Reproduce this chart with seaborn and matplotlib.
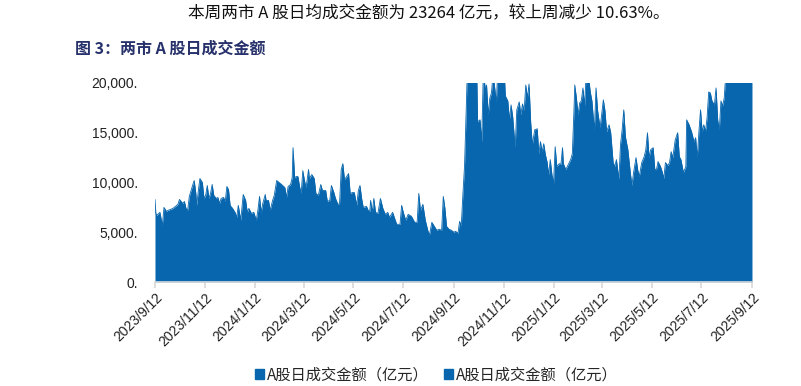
import pandas as pd
import seaborn as sns
import matplotlib.pyplot as plt
import matplotlib.dates as mdates
from matplotlib.patches import Patch
from matplotlib.ticker import FuncFormatter

# Daily turnover of the two markets' A shares (100 million yuan)
dates = [
    "2023-09-12", "2023-09-13", "2023-09-14", "2023-09-18", "2023-09-21", "2023-09-23", "2023-09-26", "2023-09-28",
    "2023-10-04", "2023-10-10", "2023-10-12", "2023-10-16", "2023-10-18", "2023-10-20", "2023-10-22", "2023-10-24",
    "2023-10-28", "2023-10-30", "2023-11-01", "2023-11-02", "2023-11-05", "2023-11-06", "2023-11-09", "2023-11-11",
    "2023-11-13", "2023-11-15", "2023-11-17", "2023-11-19", "2023-11-21", "2023-11-23", "2023-11-26", "2023-11-28",
    "2023-11-30", "2023-12-02", "2023-12-05", "2023-12-07", "2023-12-09", "2023-12-11", "2023-12-13", "2023-12-16",
    "2023-12-19", "2023-12-21", "2023-12-23", "2023-12-26", "2023-12-29", "2024-01-01", "2024-01-03", "2024-01-05",
    "2024-01-08", "2024-01-11", "2024-01-14", "2024-01-16", "2024-01-18", "2024-01-20", "2024-01-22", "2024-01-25",
    "2024-01-26", "2024-01-29", "2024-01-31", "2024-02-03", "2024-02-05", "2024-02-08", "2024-02-14", "2024-02-18",
    "2024-02-20", "2024-02-22", "2024-02-25", "2024-02-27", "2024-02-28", "2024-03-01", "2024-03-03", "2024-03-05",
    "2024-03-07", "2024-03-09", "2024-03-11", "2024-03-13", "2024-03-15", "2024-03-18", "2024-03-19", "2024-03-22",
    "2024-03-25", "2024-03-27", "2024-03-30", "2024-04-02", "2024-04-04", "2024-04-08", "2024-04-10", "2024-04-13",
    "2024-04-15", "2024-04-18", "2024-04-20", "2024-04-23", "2024-04-25", "2024-04-27", "2024-04-29", "2024-05-01",
    "2024-05-03", "2024-05-06", "2024-05-08", "2024-05-11", "2024-05-13", "2024-05-16", "2024-05-18", "2024-05-20",
    "2024-05-22", "2024-05-24", "2024-05-28", "2024-05-30", "2024-06-01", "2024-06-02", "2024-06-04", "2024-06-06",
    "2024-06-08", "2024-06-11", "2024-06-14", "2024-06-17", "2024-06-20", "2024-06-23", "2024-06-25", "2024-06-29",
    "2024-07-01", "2024-07-04", "2024-07-08", "2024-07-10", "2024-07-12", "2024-07-15", "2024-07-18", "2024-07-22",
    "2024-07-26", "2024-07-29", "2024-07-31", "2024-08-02", "2024-08-05", "2024-08-08", "2024-08-11", "2024-08-13",
    "2024-08-16", "2024-08-19", "2024-08-22", "2024-08-25", "2024-08-28", "2024-08-30", "2024-09-01", "2024-09-03",
    "2024-09-06", "2024-09-09", "2024-09-12", "2024-09-14", "2024-09-17", "2024-09-19", "2024-09-21", "2024-09-23",
    "2024-09-25", "2024-09-27", "2024-09-30", "2024-10-08", "2024-10-09", "2024-10-10", "2024-10-11", "2024-10-14",
    "2024-10-16", "2024-10-18", "2024-10-21", "2024-10-22", "2024-10-24", "2024-10-26", "2024-10-28", "2024-10-30",
    "2024-11-01", "2024-11-03", "2024-11-05", "2024-11-07", "2024-11-11", "2024-11-13", "2024-11-14", "2024-11-17",
    "2024-11-19", "2024-11-21", "2024-11-23", "2024-11-26", "2024-11-28", "2024-12-01", "2024-12-03", "2024-12-05",
    "2024-12-07", "2024-12-09", "2024-12-11", "2024-12-13", "2024-12-15", "2024-12-17", "2024-12-20", "2024-12-23",
    "2024-12-25", "2024-12-27", "2024-12-29", "2024-12-31", "2025-01-02", "2025-01-04", "2025-01-06", "2025-01-08",
    "2025-01-10", "2025-01-12", "2025-01-14", "2025-01-16", "2025-01-19", "2025-01-21", "2025-01-23", "2025-01-24",
    "2025-01-27", "2025-01-30", "2025-02-02", "2025-02-04", "2025-02-06", "2025-02-07", "2025-02-09", "2025-02-11",
    "2025-02-13", "2025-02-15", "2025-02-17", "2025-02-19", "2025-02-21", "2025-02-24", "2025-02-26", "2025-02-28",
    "2025-03-03", "2025-03-05", "2025-03-07", "2025-03-10", "2025-03-14", "2025-03-16", "2025-03-18", "2025-03-21",
    "2025-03-23", "2025-03-26", "2025-03-28", "2025-03-30", "2025-04-02", "2025-04-04", "2025-04-06", "2025-04-08",
    "2025-04-10", "2025-04-13", "2025-04-16", "2025-04-18", "2025-04-20", "2025-04-23", "2025-04-25", "2025-04-27",
    "2025-04-30", "2025-05-03", "2025-05-05", "2025-05-07", "2025-05-09", "2025-05-11", "2025-05-14", "2025-05-16",
    "2025-05-18", "2025-05-20", "2025-05-23", "2025-05-25", "2025-05-27", "2025-05-29", "2025-06-01", "2025-06-03",
    "2025-06-05", "2025-06-07", "2025-06-10", "2025-06-13", "2025-06-15", "2025-06-17", "2025-06-20", "2025-06-23",
    "2025-06-24", "2025-06-27", "2025-06-30", "2025-07-03", "2025-07-05", "2025-07-07", "2025-07-09", "2025-07-11",
    "2025-07-13", "2025-07-15", "2025-07-17", "2025-07-19", "2025-07-21", "2025-07-23", "2025-07-25", "2025-07-28",
    "2025-07-30", "2025-08-01", "2025-08-03", "2025-08-05", "2025-08-07", "2025-08-09", "2025-08-11", "2025-08-13",
    "2025-08-18", "2025-08-25", "2025-08-29", "2025-09-03", "2025-09-08", "2025-09-12",
]
turnover = [
    8300, 6900, 6700, 7000, 5700, 7500, 7100, 7200,
    7400, 7800, 8300, 7900, 8100, 7400, 7200, 8600,
    9700, 10200, 8900, 7700, 9800, 10400, 10000, 8400,
    8700, 9700, 8400, 8900, 9800, 8700, 8400, 8500,
    7900, 8400, 8500, 8100, 9600, 9300, 7700, 7400,
    7000, 6500, 7700, 6200, 8800, 8200, 7000, 7400,
    6900, 7000, 6200, 7200, 8600, 7000, 7900, 8800,
    8200, 8200, 7200, 8200, 8700, 10200, 9800, 9500,
    8500, 9600, 9800, 10500, 13500, 10500, 10600, 10600,
    9600, 8900, 11200, 10200, 9500, 11300, 10400, 10800,
    10400, 8900, 8700, 9800, 9200, 9200, 8100, 8200,
    9700, 9000, 8400, 7800, 7900, 11300, 11900, 10300,
    10500, 10900, 8900, 9000, 9000, 7700, 9200, 9700,
    8400, 7500, 7600, 7200, 7100, 8200, 7000, 8400,
    7000, 6900, 8400, 7400, 6800, 7000, 6500, 7000,
    6500, 5800, 5800, 7700, 7000, 6200, 6800, 6600,
    6000, 6000, 8900, 7200, 7800, 6200, 5200, 4700,
    6000, 5600, 5200, 5300, 5200, 8600, 7400, 5600,
    5300, 5200, 5000, 5100, 4900, 6100, 5600, 8800,
    11600, 17100, 26000, 34000, 24000, 21000, 16100, 16300,
    14100, 21000, 19100, 19800, 16800, 18500, 19000, 21000,
    19500, 18000, 22000, 25000, 22000, 20500, 18700, 18200,
    16300, 17800, 16600, 13500, 17300, 18100, 16800, 17900,
    17200, 19800, 18500, 19900, 16100, 13800, 15300, 15400,
    12900, 14100, 13100, 13900, 12800, 12100, 10800, 12300,
    10800, 9900, 13600, 11600, 11900, 11800, 13500, 11900,
    11300, 11800, 12300, 12900, 17200, 19800, 18500, 16800,
    18000, 18200, 19500, 17700, 21000, 20500, 19100, 18200,
    15200, 19500, 17200, 15500, 18300, 17200, 15100, 15800,
    15000, 12000, 11600, 12300, 10300, 13800, 15300, 17300,
    14600, 13300, 11000, 9700, 11000, 12500, 11300, 10600,
    12000, 12600, 13300, 15000, 12500, 13300, 13500, 11300,
    11300, 12100, 11600, 11100, 10400, 12000, 11700, 12000,
    13100, 12500, 14300, 15000, 12600, 12300, 11000, 11600,
    16300, 15800, 15100, 14100, 14500, 12500, 15100, 17300,
    15100, 15800, 15100, 16500, 19100, 19000, 18200, 17800,
    19500, 16300, 15300, 18200, 17700, 18500, 21000, 22000,
    27000, 31000, 28000, 24000, 21000, 25000,
]

legend_label = "A股日成交金额（亿元）"
tick_dates = pd.date_range("2023-09-01", "2025-09-01", freq="2MS") + pd.Timedelta(days=11)
y_ticks = [0, 5000, 10000, 15000, 20000]

df = pd.DataFrame({"date": pd.to_datetime(dates), "amount": turnover})

sns.set_theme(style="white")
plt.rcParams["font.family"] = ["Liberation Sans", "Noto Sans CJK SC", "DejaVu Sans"]

blue = "#0766ae"
fig = plt.figure(figsize=(8.01, 3.86), dpi=100)
ax = fig.add_axes([0.1935, 0.2694, 0.7453, 0.5156])

sns.lineplot(data=df, x="date", y="amount", ax=ax, color=blue, linewidth=0.6)
ax.fill_between(df["date"], df["amount"], color=blue, linewidth=0)

ax.set_xlim(pd.Timestamp("2023-09-12"), pd.Timestamp("2025-09-12"))
ax.set_ylim(0, 20000)
ax.set_yticks(y_ticks)
ax.yaxis.set_major_formatter(FuncFormatter(lambda v, p: f"{v:,.0f}."))
ax.set_xticks(tick_dates)
ax.xaxis.set_major_formatter(FuncFormatter(
    lambda v, p: f"{mdates.num2date(v).year}/{mdates.num2date(v).month}/{mdates.num2date(v).day}"))
ax.set_xlabel("")
ax.set_ylabel("")

for side in ["top", "right", "left"]:
    ax.spines[side].set_visible(False)
ax.spines["bottom"].set_color("#d9d9d9")
ax.spines["bottom"].set_linewidth(1.2)
ax.tick_params(axis="x", bottom=True, length=4, color="#d9d9d9", labelsize=10,
               labelcolor="#222222", pad=2, labelrotation=45)
ax.tick_params(axis="y", left=False, labelsize=10, labelcolor="#222222", pad=6.5)
for lbl in ax.get_xticklabels():
    lbl.set_ha("right")
    lbl.set_rotation_mode("anchor")

fig.text(0.535, 0.963, "本周两市 A 股日均成交金额为 23264 亿元，较上周减少 10.63%。",
         ha="center", va="center", fontsize=12, color="#111111",
         family=["Noto Sans CJK SC", "DejaVu Sans"])
fig.text(0.094, 0.875, "图 3：两市 A 股日成交金额", ha="left", va="center",
         fontsize=11.5, fontweight="bold", color="#27316b",
         family=["Noto Sans CJK SC", "DejaVu Sans"])

handles = [Patch(color=blue, label=legend_label), Patch(color=blue, label=legend_label)]
fig.legend(handles=handles, loc="center", bbox_to_anchor=(0.545, 0.028), ncol=2,
           frameon=False, handlelength=0.6, handleheight=0.6, handletextpad=0.2,
           columnspacing=1.0, prop={"family": "Noto Sans CJK SC", "size": 11})

fig.savefig("out.png", dpi=100)
plt.close()
